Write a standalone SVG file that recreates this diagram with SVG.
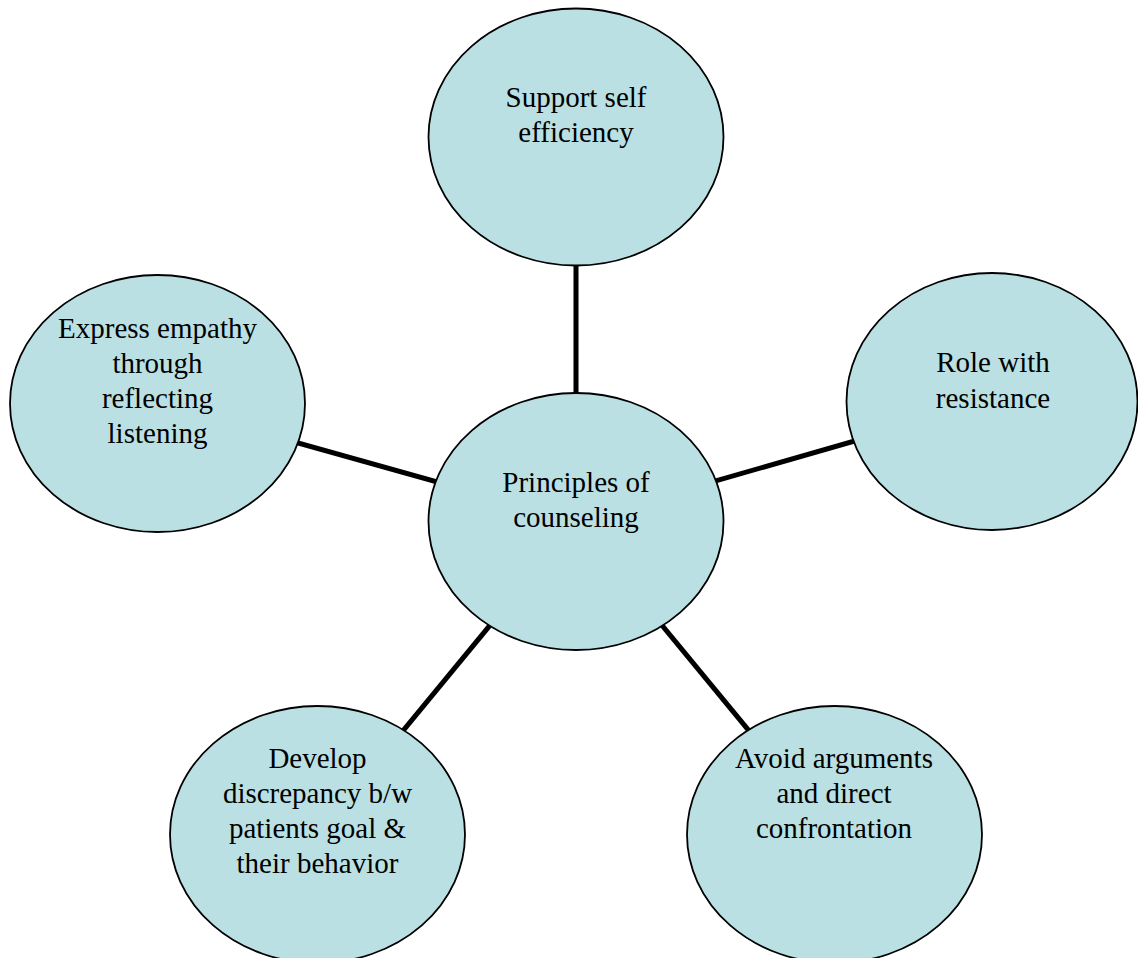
<svg xmlns="http://www.w3.org/2000/svg" width="1138" height="958" viewBox="0 0 1138 958">
  <style>
    .node ellipse { fill: #BBE0E3; stroke: #000; stroke-width: 1.8; }
    .node text { font-family: "Liberation Serif", "Times New Roman", serif; font-size: 29px; fill: #000; text-anchor: middle; }
    #connectors line { stroke: #000; stroke-width: 5; }
  </style>
  <rect width="1138" height="958" fill="#fff"/>

  <!-- spokes from the hub to each principle (drawn centre to centre, covered by the nodes) -->
  <g id="connectors">
    <line x1="576" y1="521" x2="576" y2="137"/>
    <line x1="576" y1="521" x2="157.5" y2="403.5"/>
    <line x1="576" y1="521" x2="992" y2="401.5"/>
    <line x1="576" y1="521" x2="317.5" y2="834.5"/>
    <line x1="576" y1="521" x2="834.5" y2="834.5"/>
  </g>

  <g id="node-support" class="node">
    <ellipse cx="576" cy="137" rx="147.5" ry="128.5"/>
    <text x="576" y="107">Support self</text>
    <text x="576" y="142">efficiency</text>
  </g>

  <g id="node-empathy" class="node">
    <ellipse cx="157.5" cy="403.5" rx="147.5" ry="128.5"/>
    <text x="157.5" y="338">Express empathy</text>
    <text x="157.5" y="373">through</text>
    <text x="157.5" y="408">reflecting</text>
    <text x="157.5" y="443">listening</text>
  </g>

  <g id="node-resistance" class="node">
    <ellipse cx="992" cy="401.5" rx="145.5" ry="128.5"/>
    <text x="993" y="372">Role with</text>
    <text x="993" y="408">resistance</text>
  </g>

  <g id="node-center" class="node">
    <ellipse cx="576" cy="521.5" rx="147.5" ry="128.5"/>
    <text x="576" y="492">Principles of</text>
    <text x="576" y="527">counseling</text>
  </g>

  <g id="node-discrepancy" class="node">
    <ellipse cx="317.5" cy="834.5" rx="147.5" ry="128.5"/>
    <text x="317.5" y="768">Develop</text>
    <text x="317.5" y="803">discrepancy b/w</text>
    <text x="317.5" y="838">patients goal &amp;</text>
    <text x="317.5" y="873">their behavior</text>
  </g>

  <g id="node-arguments" class="node">
    <ellipse cx="834.5" cy="834.5" rx="147.5" ry="128.5"/>
    <text x="834" y="768">Avoid arguments</text>
    <text x="834" y="803">and direct</text>
    <text x="834" y="838">confrontation</text>
  </g>
</svg>
